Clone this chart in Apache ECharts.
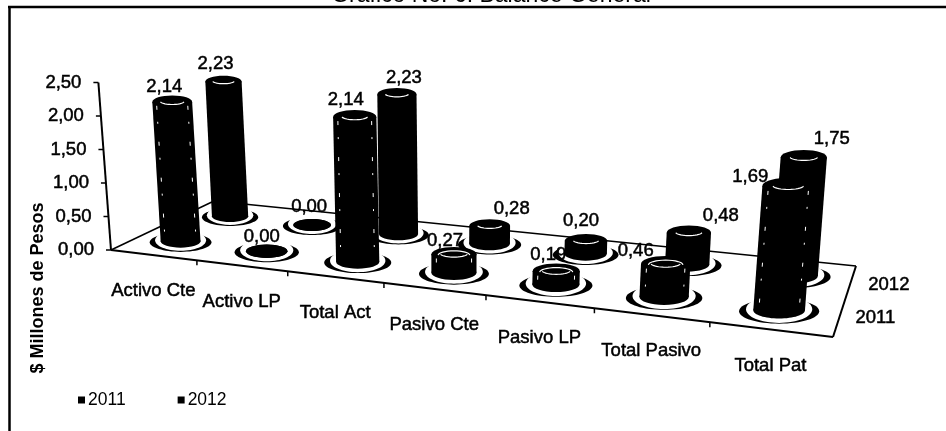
<!DOCTYPE html>
<html>
<head>
<meta charset="utf-8">
<style>
  html, body { margin: 0; padding: 0; background: #fff; }
  #chart { width: 946px; height: 431px; }
</style>
<script src="https://cdn.jsdelivr.net/npm/echarts@6/dist/echarts.min.js"></script>
</head>
<body>
<div id="chart"></div>
<script>
// datos
const categories = ['Activo Cte', 'Activo LP', 'Total Act', 'Pasivo Cte', 'Pasivo LP', 'Total Pasivo', 'Total Pat'];
const values2011 = [2.14, 0.00, 2.14, 0.27, 0.19, 0.46, 1.69];
const values2012 = [2.23, 0.00, 2.23, 0.28, 0.20, 0.48, 1.75];
const yTicks = [0, 0.5, 1, 1.5, 2, 2.5];
const depthLabels = ['2011', '2012'];

const FONT = '"Liberation Sans", Arial, sans-serif';
const YMAX = 2.5;

// ajuste manual de las etiquetas de valor [dx, dy]
const nudge2011 = [[-8, -15], [-5, -14], [-9, -17], [-9, -13], [-8, -16], [-30, -13], [-38, -9]];
const nudge2012 = [[-8, -18], [-3, -18], [7, -16], [22, -17], [-5, -20], [32, -17], [28, -18]];

// esquinas del piso en pixeles: frente-izq, frente-der, fondo-der, fondo-izq
const corners = [[111, 250], [833, 337], [856, 266], [214, 201]];

// homografia del cuadrado unitario (u, v) al piso
const sx = corners[0][0] - corners[1][0] + corners[2][0] - corners[3][0];
const sy = corners[0][1] - corners[1][1] + corners[2][1] - corners[3][1];
const dx1 = corners[1][0] - corners[2][0];
const dx2 = corners[3][0] - corners[2][0];
const dy1 = corners[1][1] - corners[2][1];
const dy2 = corners[3][1] - corners[2][1];
const den = dx1 * dy2 - dx2 * dy1;
const hg = (sx * dy2 - dx2 * sy) / den;
const hh = (dx1 * sy - sx * dy1) / den;
const ha = corners[1][0] - corners[0][0] + hg * corners[1][0];
const hb = corners[3][0] - corners[0][0] + hh * corners[3][0];
const hd = corners[1][1] - corners[0][1] + hg * corners[1][1];
const he = corners[3][1] - corners[0][1] + hh * corners[3][1];

function weight(u, v) {
  return hg * u + hh * v + 1;
}

function floorPoint(u, v) {
  const w = weight(u, v);
  return [(ha * u + hb * v + corners[0][0]) / w, (hd * u + he * v + corners[0][1]) / w];
}

// punto en el espacio: u y v sobre el piso, val en unidades del eje
function project(u, v, val) {
  const p = floorPoint(u, v);
  const H = val * (67 - 4 * v) * Math.pow(1 / weight(u, v), 0.7);
  return [p[0] + (p[0] - 450) / 4500 * H, p[1] - H];
}

// pasa por las escalas del grid oculto
function readPoint(params, api, cat, val) {
  const cs = params.coordSys;
  const c = api.coord([cat, val]);
  return {
    u: (c[0] - cs.x) / cs.width,
    val: (cs.y + cs.height - c[1]) / cs.height * YMAX
  };
}

function fmt(v) {
  return v.toFixed(2).replace('.', ',');
}

function textEl(text, x, y, align, extra) {
  return {
    type: 'text',
    style: Object.assign({
      text: text,
      x: x,
      y: y,
      align: align || 'center',
      verticalAlign: 'middle',
      fill: '#000',
      font: '18.5px ' + FONT,
      stroke: '#000',
      lineWidth: 0.5
    }, extra || {})
  };
}

function lineEl(a, b, width) {
  return {
    type: 'line',
    shape: { x1: a[0], y1: a[1], x2: b[0], y2: b[1] },
    style: { stroke: '#000', lineWidth: width || 2 }
  };
}

function arcPoints(cx, cy, a, b, t0, t1) {
  const pts = [];
  for (let i = 0; i <= 16; i++) {
    const t = t0 + (t1 - t0) * i / 16;
    pts.push([cx + a * Math.cos(t), cy + b * Math.sin(t)]);
  }
  return pts;
}

function ellipseEl(cx, cy, a, b, fill) {
  return { type: 'ellipse', shape: { cx: cx, cy: cy, rx: a, ry: b }, style: { fill: fill } };
}

// cilindro de una serie
function barSeries(name, values, depth) {
  return {
    name: name,
    type: 'custom',
    clip: false,
    itemStyle: { color: '#000' },
    data: values.map((v, i) => [i, v]),
    renderItem: function (params, api) {
      const pt = readPoint(params, api, api.value(0), api.value(1));
      const base = project(pt.u, depth, 0);
      const top = project(pt.u, depth, pt.val);
      const rx = 20.5 * Math.pow(1 / weight(pt.u, depth), 1.5);
      const ry = rx * 0.32;
      const kids = [
        ellipseEl(base[0], base[1] + 1, rx * 1.55, ry * 1.5, '#000'),
        ellipseEl(base[0], base[1] - 1, rx * 1.28, ry * 1.65, '#fff'),
        ellipseEl(base[0], base[1], rx, ry, '#000'),
        {
          type: 'polygon',
          shape: { points: [[base[0] - rx, base[1]], [base[0] + rx, base[1]], [top[0] + rx, top[1]], [top[0] - rx, top[1]]] },
          style: { fill: '#000' }
        },
        ellipseEl(top[0], top[1], rx, ry, '#000')
      ];
      if (pt.val > 0.05) {
        // brillos del escaneo
        kids.push({
          type: 'polyline',
          shape: { points: arcPoints(top[0], top[1] - 1, rx * 0.62, ry * 0.55, 0.3, Math.PI - 0.3) },
          style: { stroke: '#fff', lineWidth: 1.2, fill: null }
        });
        if (name === '2011') {
          if (pt.val < 0.5) {
            kids.push({
              type: 'polyline',
              shape: { points: arcPoints(top[0], top[1] + 1, rx * 0.7, ry * 0.6, Math.PI, Math.PI * 2) },
              style: { stroke: '#fff', lineWidth: 1.2, fill: null }
            });
          }
          [-0.78, 0.78].forEach(k => {
            kids.push({
              type: 'line',
              shape: { x1: top[0] + k * rx, y1: top[1] + ry * 0.6, x2: base[0] + k * rx, y2: base[1] - ry * 0.2 },
              style: { stroke: '#fff', lineWidth: 1, lineDash: [4, 12, 2, 18] }
            });
          });
        }
      }
      return { type: 'group', children: kids };
    }
  };
}

// etiquetas de valor por encima de todo
function valueLabels(values, depth, nudge) {
  return {
    type: 'custom',
    clip: false,
    z: 5,
    silent: true,
    data: values.map((v, i) => [i, v]),
    renderItem: function (params, api) {
      const i = api.value(0);
      const pt = readPoint(params, api, i, api.value(1));
      const top = project(pt.u, depth, pt.val);
      return textEl(fmt(values[i]), top[0] + nudge[i][0], top[1] + nudge[i][1]);
    }
  };
}

// piso, ejes y textos de los ejes
const frameSeries = {
  type: 'custom',
  clip: false,
  silent: true,
  z: 1,
  data: [[0, 0]],
  renderItem: function () {
    const kids = [
      lineEl(corners[0], corners[1]),
      lineEl(corners[1], corners[2]),
      lineEl(corners[2], corners[3], 1.5),
      lineEl(corners[3], corners[0], 1.5),
      lineEl(project(0, 0, 0), project(0, 0, YMAX))
    ];
    for (let i = 1; i < categories.length; i++) {
      const p = floorPoint(i / categories.length, 0);
      kids.push(lineEl(p, [p[0], p[1] + 5], 1.5));
    }
    depthLabels.forEach((t, i) => {
      const p = floorPoint(1, 0.25 + i * 0.5);
      kids.push(textEl(t, p[0] + 36 + i * 2, p[1] + 1 + i * 2));
    });
    return { type: 'group', children: kids };
  }
};

const yTickSeries = {
  type: 'custom',
  clip: false,
  silent: true,
  z: 1,
  data: yTicks.map(t => [0, t]),
  renderItem: function (params, api) {
    const pt = readPoint(params, api, 0, api.value(1));
    const p = project(0, 0, pt.val);
    return {
      type: 'group',
      children: [
        lineEl([p[0] - 5, p[1]], p, 1.5),
        textEl(fmt(api.value(1)), p[0] - 17, p[1], 'right')
      ]
    };
  }
};

const categorySeries = {
  type: 'custom',
  clip: false,
  silent: true,
  z: 1,
  data: categories.map((c, i) => [i, 0]),
  renderItem: function (params, api) {
    const i = api.value(0);
    const pt = readPoint(params, api, i, 0);
    const p = floorPoint(pt.u, 0);
    return textEl(categories[i], p[0], p[1] + 36);
  }
};

const chart = echarts.init(document.getElementById('chart'));
chart.setOption({
  animation: false,
  backgroundColor: '#fff',
  // rejilla invisible: solo aporta las escalas
  grid: { left: 100, right: 100, top: 60, bottom: 100 },
  xAxis: { type: 'category', data: categories, show: false },
  yAxis: { type: 'value', min: 0, max: YMAX, interval: 0.5, show: false },
  title: {
    text: 'Gráfico No. 6. Balance General',
    left: 486,
    top: -21,
    textAlign: 'center',
    textStyle: { fontFamily: FONT, fontSize: 23, fontWeight: 'normal', color: '#000' }
  },
  legend: {
    data: ['2011', '2012'],
    left: 73,
    top: 386,
    icon: 'rect',
    itemWidth: 7,
    itemHeight: 7,
    itemGap: 52,
    textStyle: { fontFamily: FONT, fontSize: 17.5, color: '#000', padding: [0, 0, 0, -2] }
  },
  graphic: [
    { type: 'line', shape: { x1: 8, y1: 7, x2: 946, y2: 7 }, style: { stroke: '#000', lineWidth: 2.5 } },
    { type: 'line', shape: { x1: 9.5, y1: 6, x2: 9.5, y2: 431 }, style: { stroke: '#000', lineWidth: 2.5 } },
    {
      type: 'text',
      rotation: Math.PI / 2,
      x: 38,
      y: 288,
      style: {
        text: '$ Millones de Pesos',
        align: 'center',
        verticalAlign: 'middle',
        fill: '#000',
        font: 'bold 18px ' + FONT
      }
    }
  ],
  series: [
    frameSeries,
    yTickSeries,
    categorySeries,
    barSeries('2012', values2012, 0.75),
    barSeries('2011', values2011, 0.25),
    valueLabels(values2012, 0.75, nudge2012),
    valueLabels(values2011, 0.25, nudge2011)
  ]
});
</script>
</body>
</html>
